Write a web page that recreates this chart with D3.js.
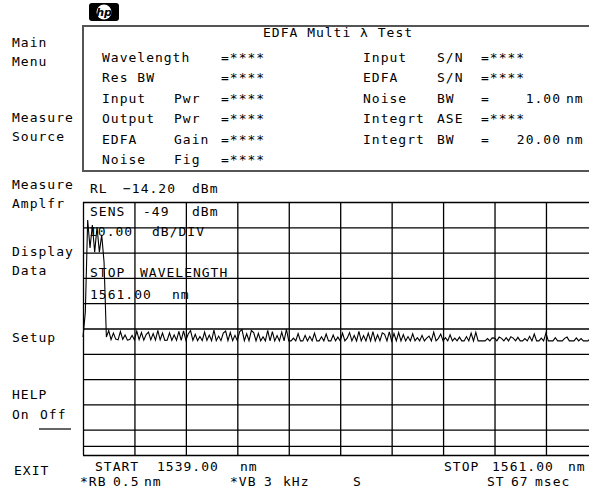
<!DOCTYPE html>
<html>
<head>
<meta charset="utf-8">
<script src="https://cdn.jsdelivr.net/npm/d3@7"></script>
<style>
  body { margin: 0; background: #fff; }
  svg text { font-family: "DejaVu Sans Mono", monospace; font-size: 13px; letter-spacing: 1px; fill: #000; }
</style>
</head>
<body>
<svg id="osa" width="589" height="497"></svg>
<script>
// Instrument settings
const refLevelDbm = -14.20;
const dbPerDiv = 10;
const sensDbm = -49;
const startNm = 1539.00;
const stopNm = 1561.00;
const traceStepNm = 0.1;
const displayLineDbm = -110.6;

// Soft keys on the left
const softKeys = [["Main", "Menu"], ["Measure", "Source"], ["Measure", "Amplfr"], ["Display", "Data"], ["Setup"], ["HELP", "On Off"], ["EXIT"]];

// Measurement table (label, unit word, value)
const leftRows = [["Wavelength", "", "=****"], ["Res BW", "", "=****"], ["Input", "Pwr", "=****"],
  ["Output", "Pwr", "=****"], ["EDFA", "Gain", "=****"], ["Noise", "Fig", "=****"]];
const rightRows = [["Input", "S/N", "=****", ""], ["EDFA", "S/N", "=****", ""], ["Noise", "BW", "=", "1.00"],
  ["Integrt", "ASE", "=****", ""], ["Integrt", "BW", "=", "20.00"]];

// Trace, dBm every 0.1 nm from 1539.0 nm
const traceDbm = [
  -67.6, -57.7, -21.3, -32.4, -23.3, -34.0, -24.1, -34.0, -27.2, -37.9,
  -67.6, -65.0, -68.6, -66.0, -68.4, -68.7, -65.4, -68.5, -66.8, -68.8, -68.6,
  -66.9, -68.7, -65.2, -68.6, -65.8, -68.8, -66.6, -65.6, -68.7, -66.2,
  -68.8, -64.9, -68.7, -66.0, -68.9, -68.8, -65.9, -68.9, -66.7, -68.9,
  -65.3, -68.9, -65.1, -68.8, -66.4, -65.0, -68.9, -66.5, -69.0, -67.4,
  -69.0, -65.6, -68.9, -66.8, -69.0, -64.8, -69.0, -67.2, -69.0, -66.0,
  -65.2, -69.0, -65.8, -69.0, -66.9, -69.0, -65.4, -64.6, -69.0, -66.3,
  -69.0, -65.0, -65.8, -69.1, -66.1, -69.1, -67.5, -69.1, -64.9, -69.1,
  -65.4, -69.1, -67.0, -69.1, -65.6, -69.1, -64.5, -69.1, -69.1, -68.0,
  -69.1, -66.2, -69.1, -69.1, -66.9, -69.1, -67.3, -69.1, -66.0, -69.1,
  -69.1, -67.5, -69.1, -66.4, -69.1, -69.1, -66.8, -69.1, -67.6, -69.1,
  -66.0, -69.1, -68.0, -65.8, -69.1, -66.9, -69.1, -65.3, -69.1, -67.0,
  -69.1, -66.0, -69.1, -65.4, -69.1, -66.7, -69.1, -65.9, -66.5, -69.1,
  -65.5, -69.1, -66.2, -69.1, -65.8, -69.1, -66.6, -69.1, -67.4, -69.1,
  -66.3, -69.1, -67.8, -69.1, -66.9, -69.1, -68.0, -67.2, -69.1, -65.6,
  -69.1, -68.1, -66.4, -69.1, -67.8, -69.1, -66.7, -69.1, -68.0, -69.1,
  -67.6, -69.1, -69.1, -67.4, -69.1, -66.0, -69.1, -65.7, -69.1, -69.1,
  -69.1, -69.1, -68.2, -69.1, -67.9, -68.0, -69.1, -67.6, -68.1, -69.1,
  -67.8, -69.1, -67.5, -68.0, -69.1, -67.7, -69.1, -69.1, -68.2, -69.1,
  -67.3, -69.1, -66.4, -69.1, -69.1, -68.0, -69.1, -66.0, -69.1, -69.1,
  -69.1, -67.8, -69.1, -69.1, -69.1, -68.1, -67.6, -69.1, -69.1, -69.1,
  -67.9, -69.1, -68.2, -69.1, -69.1, -69.1, -68.0, -69.1, -69.1, -69.1
];

const svg = d3.select("#osa");
const grid = { left: 83, right: 597.4, top: 202, bottom: 455 };

const x = d3.scaleLinear().domain([startNm, stopNm]).range([grid.left, grid.right]);
const y = d3.scaleLinear().domain([refLevelDbm, refLevelDbm - 10 * dbPerDiv]).range([grid.top, grid.bottom]);

const put = (t, px, py) => svg.append("text").attr("x", px).attr("y", py).text(t);

// HP logo
const logo = svg.append("g");
logo.append("rect").attr("x", 89).attr("y", 3).attr("width", 30).attr("height", 18).attr("rx", 3).attr("fill", "#000");
logo.append("circle").attr("cx", 104).attr("cy", 12).attr("r", 7.5).attr("fill", "#fff");
logo.append("text").attr("x", 104).attr("y", 16).attr("text-anchor", "middle")
  .style("font-family", "DejaVu Sans").style("font-size", "11px").style("font-style", "italic")
  .style("font-weight", "bold").style("letter-spacing", "0").text("hp");

// Measurement box
svg.append("path")
  .attr("d", `M589,26H83V171H589`)
  .attr("fill", "none").attr("stroke", "#555").attr("stroke-width", 2);
put("EDFA Multi \u03bb Test", 263, 37);
leftRows.forEach((r, i) => {
  const by = 62 + i * 20.4;
  put(r[0], 102, by);
  if (r[1]) put(r[1], 174, by);
  put(r[2], 221, by);
});
rightRows.forEach((r, i) => {
  const by = 62 + i * 20.4;
  put(r[0], 363, by);
  put(r[1], 437, by);
  put(r[2], 481, by);
  if (r[3]) {
    svg.append("text").attr("x", 561).attr("y", by).attr("text-anchor", "end").text(r[3]);
    put("nm", 566, by);
  }
});

// Soft key labels
const keyY = [[47, 66], [122, 141], [189, 208], [256, 275], [342], [399, 419], [475]];
softKeys.forEach((k, i) => {
  k.forEach((t, j) => {
    if (t === "On Off") {
      put("On", 12, keyY[i][j]);
      put("Off", 40, keyY[i][j]);
      svg.append("line").attr("x1", 39).attr("x2", 71).attr("y1", 429).attr("y2", 429)
        .attr("stroke", "#000").attr("stroke-width", 1.2);
    } else {
      put(t, t === "EXIT" ? 14 : 12, keyY[i][j]);
    }
  });
});

// Annotations inside the graticule
const f2 = d3.format(".2f");
put("RL", 90, 193); put(f2(refLevelDbm), 123, 193); put("dBm", 192, 193);
put("SENS", 90, 216); put(String(sensDbm), 143, 216); put("dBm", 192, 216);
put(f2(dbPerDiv), 89, 236); put("dB/DIV", 152, 236);
put("STOP", 90, 277); put("WAVELENGTH", 140, 277);
put(f2(stopNm), 90, 299); put("nm", 172, 299);

// Graticule
const gridStroke = g => g.call(s => s.select(".domain").remove())
  .call(s => s.selectAll("line").attr("stroke", "#000").attr("stroke-width", 1.3));

svg.append("g")
  .attr("transform", `translate(0,${grid.bottom})`)
  .call(d3.axisBottom(x).tickValues(d3.range(11).map(k => startNm + k * (stopNm - startNm) / 10))
    .tickSize(-(grid.bottom - grid.top)).tickFormat(""))
  .call(gridStroke);

svg.append("g")
  .attr("transform", `translate(${grid.left},0)`)
  .call(d3.axisLeft(y).tickValues(d3.range(11).map(k => refLevelDbm - k * dbPerDiv).concat([displayLineDbm]))
    .tickSize(-(grid.right - grid.left)).tickFormat(""))
  .call(gridStroke);

// Trace
const line = d3.line()
  .x((d, i) => x(startNm + i * traceStepNm))
  .y(d => y(d));
svg.append("path")
  .datum(traceDbm)
  .attr("d", line)
  .attr("fill", "none")
  .attr("stroke", "#000")
  .attr("stroke-width", 1.1);

// Footer
put("START", 95, 471); put(f2(startNm), 157, 471); put("nm", 240, 471);
put("STOP", 444, 471); put(f2(stopNm), 492, 471); put("nm", 568, 471);
put("*RB", 80, 486); put("0.5", 113, 486); put("nm", 144, 486);
put("*VB", 230, 486); put("3", 264, 486); put("kHz", 283, 486);
put("S", 353, 486);
put("ST", 487, 486); put("67", 511, 486); put("msec", 535, 486);
</script>
</body>
</html>
